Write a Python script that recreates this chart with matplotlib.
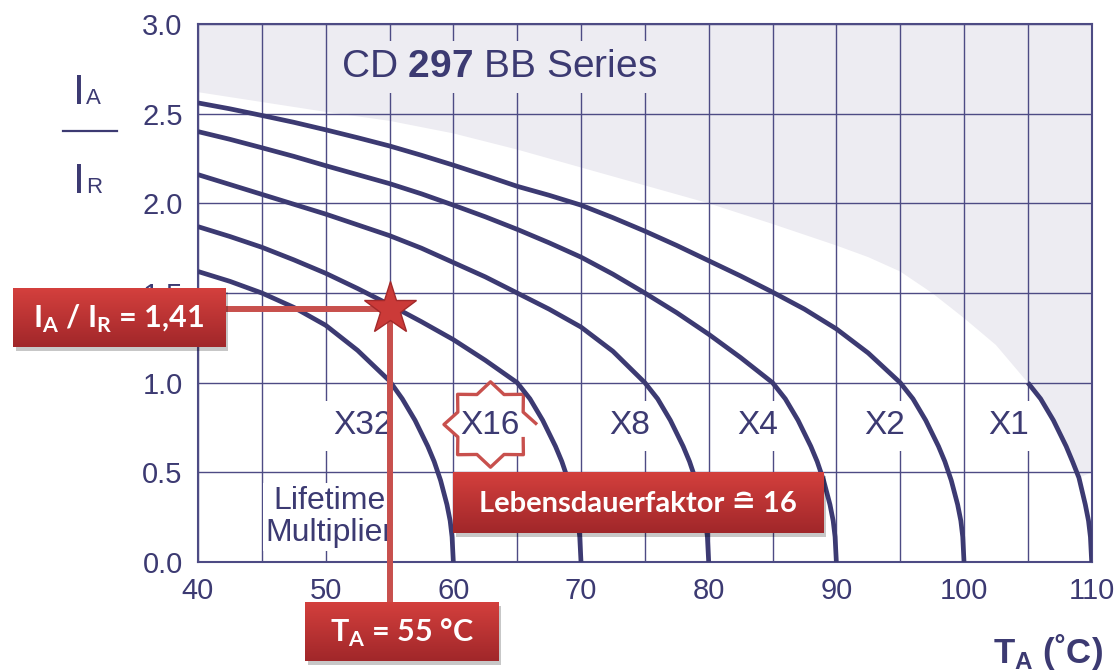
import numpy as np
import matplotlib
matplotlib.use("Agg")
import matplotlib.pyplot as plt
from matplotlib.lines import Line2D
from matplotlib.patches import Rectangle

# lifetime curves: ambient temperature (degC) vs I_A/I_R
x32_t = [40, 42.5, 45, 47.5, 50, 52.5, 55, 56, 57, 58, 58.5, 59, 59.5, 59.75, 59.9, 60]
x32_r = [1.62, 1.565, 1.50, 1.42, 1.32, 1.18, 1.01, 0.91, 0.79, 0.645, 0.56, 0.455,
         0.32, 0.23, 0.14, 0.0]

x16_t = [40, 42.5, 45, 47.5, 50, 52.5, 55, 57.5, 60, 62.5, 65, 66, 67, 68, 68.5, 69,
         69.5, 69.75, 69.9, 70]
x16_r = [1.87, 1.815, 1.755, 1.685, 1.61, 1.525, 1.435, 1.34, 1.24, 1.125, 1.0, 0.91,
         0.79, 0.645, 0.56, 0.455, 0.32, 0.23, 0.14, 0.0]

x8_t = [40, 42.5, 45, 47.5, 50, 52.5, 55, 57.5, 60, 62.5, 65, 67.5, 70, 72.5, 75, 76,
        77, 78, 78.5, 79, 79.5, 79.75, 79.9, 80]
x8_r = [2.16, 2.105, 2.05, 1.995, 1.94, 1.88, 1.82, 1.75, 1.67, 1.59, 1.50, 1.41, 1.31,
        1.175, 1.0, 0.91, 0.79, 0.645, 0.56, 0.455, 0.32, 0.23, 0.14, 0.0]

x4_t = [40, 42.5, 45, 47.5, 50, 52.5, 55, 57.5, 60, 62.5, 65, 67.5, 70, 72.5, 75, 77.5,
        80, 82.5, 85, 86, 87, 88, 88.5, 89, 89.5, 89.75, 89.9, 90]
x4_r = [2.40, 2.357, 2.31, 2.262, 2.21, 2.16, 2.11, 2.053, 1.99, 1.925, 1.855, 1.78,
        1.70, 1.605, 1.50, 1.39, 1.27, 1.14, 1.0, 0.91, 0.79, 0.645, 0.56, 0.455, 0.32,
        0.23, 0.14, 0.0]

x2_t = [40, 42.5, 45, 47.5, 50, 52.5, 55, 57.5, 60, 62.5, 65, 67.5, 70, 72.5, 75, 77.5,
        80, 82.5, 85, 87.5, 90, 92.5, 95, 96, 97, 98, 98.5, 99, 99.5, 99.75, 99.9, 100]
x2_r = [2.56, 2.527, 2.49, 2.452, 2.41, 2.366, 2.32, 2.268, 2.213, 2.155, 2.095, 2.045,
        1.99, 1.92, 1.845, 1.765, 1.68, 1.595, 1.505, 1.41, 1.30, 1.165, 1.0, 0.91, 0.79,
        0.645, 0.56, 0.455, 0.32, 0.23, 0.14, 0.0]

x1_t = [105, 106, 107, 108, 108.5, 109, 109.5, 109.75, 109.9, 110]
x1_r = [1.0, 0.91, 0.79, 0.645, 0.56, 0.47, 0.32, 0.23, 0.14, 0.0]

# upper limit of the permitted area (grey above it)
limit_t = [40, 45, 50, 55, 60, 65, 70, 75, 80, 85, 90, 92.5, 95, 97.5, 100, 102.5, 105]
limit_r = [2.62, 2.565, 2.51, 2.46, 2.39, 2.30, 2.20, 2.10, 2.0, 1.885, 1.765, 1.70,
           1.62, 1.50, 1.36, 1.21, 1.0]

mult_labels = ["X32", "X16", "X8", "X4", "X2", "X1"]
mult_t = [52.9, 62.9, 73.8, 83.85, 93.75, 103.5]
mult_r = 0.76

op_t = 55
op_r = 1.41

navy = "#3c3a72"
gridc = "#4d4b84"
shade = "#edecf2"
red_top = "#d4403d"
red_bot = "#a1272a"
red_line = "#c8504d"

W, H = 1114, 670

plt.rcParams["font.family"] = ["Liberation Sans", "DejaVu Sans"]
plt.rcParams["mathtext.fontset"] = "custom"
plt.rcParams["mathtext.rm"] = "Liberation Sans"
plt.rcParams["mathtext.bf"] = "Liberation Sans:bold"

fig = plt.figure(figsize=(W / 100, H / 100), dpi=100)
ax = fig.add_axes([198 / W, 1 - 562 / H, (1091.7 - 198) / W, (562 - 24) / H])


def fpos(x, y):
    """pixel (from top left) -> figure fraction"""
    return x / W, 1 - y / H


# grey area above the limit curve and right of X1 (down to 0.5)
poly_t = limit_t + x1_t[1:6] + [110, 110, 40]
poly_r = limit_r + x1_r[1:6] + [0.5, 3.0, 3.0]
ax.fill(poly_t, poly_r, color=shade, lw=0, zorder=0.2)

curves = [(x32_t, x32_r), (x16_t, x16_r), (x8_t, x8_r),
          (x4_t, x4_r), (x2_t, x2_r), (x1_t, x1_r)]
for t, r in curves:
    ax.plot(t, r, color=navy, lw=3.4, solid_capstyle="butt",
            solid_joinstyle="round", zorder=4.8)

ax.set_xlim(40, 110)
ax.set_ylim(0, 3.0)
ax.set_xticks(np.arange(40, 111, 10))
ax.set_xticks(np.arange(45, 110, 10), minor=True)
ax.set_yticks(np.arange(0, 3.01, 0.5))
ax.set_yticklabels(["%.1f" % v for v in np.arange(0, 3.01, 0.5)])
ax.set_axisbelow(True)
ax.grid(which="both", color=gridc, lw=1.0)
ax.tick_params(which="both", length=0, labelsize=21, colors=navy)
ax.tick_params(axis="x", pad=11)
ax.tick_params(axis="y", pad=11)
for s in ax.spines.values():
    s.set_color(gridc)
    s.set_linewidth(1.5)

ax.text(63.55, 2.76, r"CD $\mathbf{297}$ BB Series", fontsize=28, color=navy,
        ha="center", va="center", zorder=2,
        bbox=dict(facecolor=shade, edgecolor="none", pad=6))

for lab, t in zip(mult_labels, mult_t):
    box = None if lab == "X16" else dict(facecolor="white", edgecolor="none", pad=7)
    ax.text(t, mult_r, lab, fontsize=24, color=navy, ha="center", va="center",
            zorder=5 if lab == "X16" else 4, bbox=box)

ax.text(50.3, 0.25, "Lifetime\nMultiplier", fontsize=23, color=navy,
        ha="center", va="center", linespacing=1.1, zorder=2,
        bbox=dict(facecolor="white", edgecolor="none", pad=2))

# 8-pointed star around X16
ang = np.arange(16) * np.pi / 8
rad = np.where(np.arange(16) % 2 == 0, 1.0, 0.76)
star8 = np.column_stack([1.09 * rad * np.cos(ang), rad * np.sin(ang)])
ax.plot(62.85, 0.77, marker=star8, ms=67, mfc="white", mec=red_line, mew=2.4,
        zorder=4.5, clip_on=False)

# operating point markers
ax.plot([37, op_t], [op_r, op_r], color=red_line, lw=4.3, zorder=5,
        clip_on=False, solid_capstyle="butt")
ax.plot([op_t, op_t], [op_r, -0.35], color=red_line, lw=4.3, zorder=5,
        clip_on=False, solid_capstyle="butt")
ax.plot(op_t, op_r, marker="*", ms=40, mfc="#cb3a38", mec="#a3292a", mew=1,
        zorder=7, clip_on=False)

# y label I_A / I_R
tx, ty = fpos(73, 104)
fig.text(tx, ty, "I", fontsize=31, color=navy, va="baseline")
tx, ty = fpos(86, 104)
fig.text(tx, ty, "A", fontsize=16, color=navy, va="baseline")
tx, ty = fpos(73, 193)
fig.text(tx, ty, "I", fontsize=31, color=navy, va="baseline")
tx, ty = fpos(86, 193)
fig.text(tx, ty, "R", fontsize=16, color=navy, va="baseline")
x0, y0 = fpos(63, 131)
x1, _ = fpos(117, 131)
fig.add_artist(Line2D([x0, x1], [y0, y0], color=navy, lw=1.6))

# x label
tx, ty = fpos(1103, 663)
fig.text(tx, ty, r"T$_\mathregular{A}$ (˚C)", fontsize=25, fontweight="bold",
         color=navy, ha="right", va="baseline")

# red callout boxes
grad = np.linspace(0, 1, 64).reshape(-1, 1)
cmap = matplotlib.colors.LinearSegmentedColormap.from_list("rb", [red_top, red_bot])


def red_box(x0, y0, x1, y1, label, size):
    l, t = fpos(x0, y0)
    r, b = fpos(x1, y1)
    sh = Rectangle((l + 3 / W, b - 4 / H), r - l, t - b, transform=fig.transFigure,
                   facecolor="black", alpha=0.22, lw=0, zorder=4)
    fig.add_artist(sh)
    bx = fig.add_axes([l, b, r - l, t - b], zorder=5)
    bx.imshow(grad, aspect="auto", cmap=cmap, extent=[0, 1, 0, 1])
    bx.set_axis_off()
    bx.text(0.5, 0.47, label, transform=bx.transAxes, ha="center", va="center",
            color="white", fontsize=size, fontweight="bold",
            family=["Lato", "DejaVu Sans"])


red_box(12.7, 288, 225, 347, r"I$_\mathregular{A}$ / I$_\mathregular{R}$ = 1,41", 22)
red_box(452.7, 471.7, 823.3, 533.3, "Lebensdauerfaktor ≘ 16", 21)
red_box(305, 601.7, 498.3, 660.7, r"T$_\mathregular{A}$ = 55 °C", 22)

fig.savefig("out.png", dpi=100)
